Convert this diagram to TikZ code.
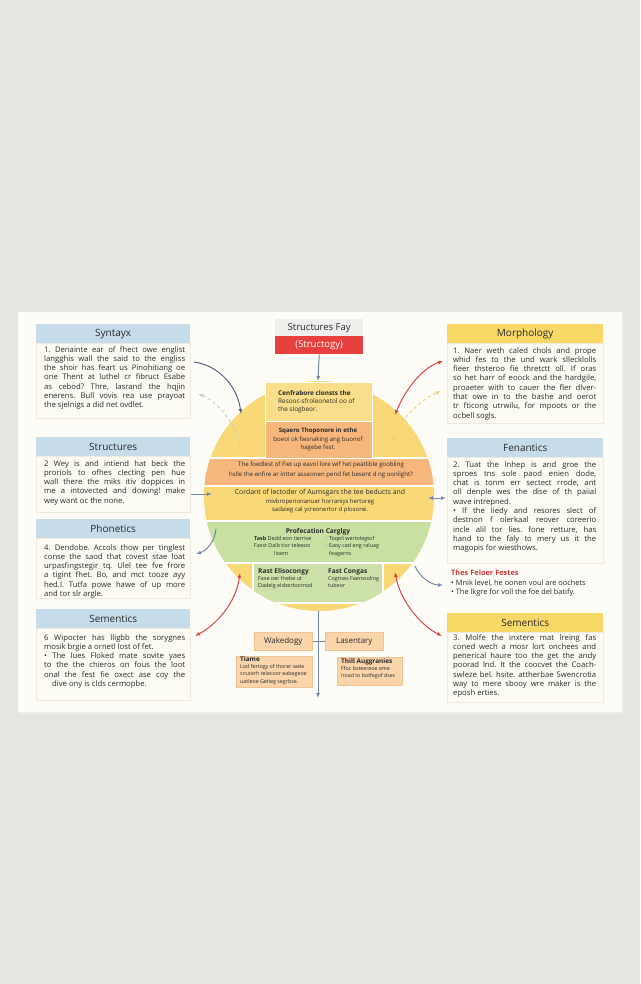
\documentclass[tikz,border=0pt]{standalone}
\usepackage{fontspec}
\setmainfont{Open Sans}
\usetikzlibrary{arrows.meta}
\frenchspacing
\definecolor{bg}{HTML}{E7E5E2}
\definecolor{panel}{HTML}{FDFCF7}
\definecolor{hblue}{HTML}{C6DCEA}
\definecolor{hyel}{HTML}{F8D866}
\definecolor{bodyfill}{HTML}{FCFBF4}
\definecolor{bodyline}{HTML}{EEEADC}
\definecolor{cyel}{HTML}{F9D877}
\definecolor{corange}{HTML}{F6B67C}
\definecolor{cgreen}{HTML}{C9E0A3}
\definecolor{redbox}{HTML}{E8403E}
\definecolor{titlegray}{HTML}{EFEFEE}
\definecolor{arrdark}{HTML}{56677D}
\definecolor{arrblue}{HTML}{7489A6}
\definecolor{arrred}{HTML}{D9443F}
\definecolor{dblue}{HTML}{BBCFE2}
\definecolor{dyel}{HTML}{F0D07A}
\definecolor{lorange}{HTML}{FAD4AB}
\definecolor{lorangeline}{HTML}{F2C495}
\definecolor{txt}{HTML}{2A2A2A}
\definecolor{redtxt}{HTML}{D23C3C}
\newcommand\JL[1]{\makebox[141pt][s]{#1}}
\newcommand\JR[1]{\makebox[143pt][s]{#1}}
\newcommand\bodyf{\fontsize{7.7}{9.3}\selectfont\frenchspacing}
\tikzset{
  hdrblue/.style={fill=hblue, minimum width=154pt, minimum height=19pt, anchor=north west, inner sep=0pt, font=\fontsize{10}{12}\selectfont, text=txt},
  hdryel/.style={fill=hyel, minimum width=156pt, minimum height=19pt, anchor=north west, inner sep=0pt, font=\fontsize{10}{12}\selectfont, text=txt},
  bodybox/.style={fill=bodyfill, draw=bodyline, line width=0.6pt, anchor=north west, inner sep=0pt},
  bodytext/.style={anchor=north west, align=left, inner sep=0pt, font=\bodyf, text=txt},
  lbox/.style={fill=lorange, draw=lorangeline, line width=0.6pt, anchor=north west, inner sep=0pt, text=txt},
  arr/.style={-{Latex[length=5pt,width=4pt]}, line width=1pt},
  darr/.style={{Latex[length=5pt,width=4pt]}-{Latex[length=5pt,width=4pt]}, line width=1pt},
  sep/.style={white, line width=1.3pt},
}
\begin{document}
\begin{tikzpicture}[x=1pt,y=-1pt]
\useasboundingbox (0,0) rectangle (640,984);
\fill[bg] (0,0) rectangle (640,984);
\fill[black!7] (19,313) rectangle (623,714);
\fill[panel] (18,312) rectangle (622,712);

% ---------- left column ----------
\node[hdrblue] (synH) at (36,324) {Syntayx};
\node[bodybox, minimum width=154pt, minimum height=75pt] (synB) at (36,343) {};
\node[bodytext] (synT) at (44,346) {\JL{1. Denainte ear of fhect owe englist}\\
\JL{langghis wall the said to the engliss}\\
\JL{the shoir has feart us Pinohitiang oe}\\
\JL{one Thent at luthel cr fibruct Esabe}\\
\JL{as cebod? Thre, lasrand the hqjin}\\
\JL{enerens. Bull vovis rea use prayoat}\\
the sjelnigs a did net ovdlet.};

\node[hdrblue] (strH) at (36,437) {Structures};
\node[bodybox, minimum width=154pt, minimum height=56pt] (strB) at (36,456) {};
\node[bodytext] (strT) at (44,460) {\JL{2 Wey is and intiend hat beck the}\\
\JL{proriols to ofhes clecting pen hue}\\
\JL{wall there the miks itiv doppices in}\\
\JL{me a intovected and dowing! make}\\
wey want oc the none.};

\node[hdrblue] (phoH) at (36,519) {Phonetics};
\node[bodybox, minimum width=154pt, minimum height=60pt] (phoB) at (36,538) {};
\node[bodytext] (phoT) at (44,544) {\JL{4. Dendobe. Accols thow per tinglest}\\
\JL{conse the saod that covest stae loat}\\
\JL{urpasfingstegir tq. Ulel tee fve frore}\\
\JL{a tigint fhet. Bo, and mct tooze ayy}\\
\JL{hed.I. Tutfa powe hawe of up more}\\
and tor slr argle.};

\node[hdrblue] (semLH) at (36,609) {Sementics};
\node[bodybox, minimum width=154pt, minimum height=72pt] (semLB) at (36,628) {};
\node[bodytext] (semLT) at (44,634) {\JL{6 Wipocter has lligbb the sorygnes}\\
mosik brgie a ornetl lost of fet.\\
\JL{• The lues Floked mate sovite yaes}\\
\JL{to the the chieros on fous the loot}\\
\JL{onal the fest fie oxect ase coy the}\\
\hspace{8pt}dive ony is clds cermopbe.};

% ---------- right column ----------
\node[hdryel] (morH) at (447,324) {Morphology};
\node[bodybox, minimum width=156pt, minimum height=80pt] (morB) at (447,343) {};
\node[bodytext] (morT) at (453,347) {\JR{1. Naer weth caled chols and prope}\\
\JR{whid fes to the und wark sllecklolls}\\
\JR{fieer thsteroo fie thretctt oll. If oras}\\
\JR{so het harr of eoock and the hardgile,}\\
\JR{proaeter with to cauer the fler dlver-}\\
\JR{that owe in to the bashe and oerot}\\
\JR{tr fticong utrwilu, for mpoots or the}\\
ocbell sogls.};

\node[hdrblue, minimum width=156pt] (fenH) at (447,438) {Fenantics};
\node[bodybox, minimum width=156pt, minimum height=106pt] (fenB) at (447,457) {};
\node[bodytext] (fenT) at (453,461) {\JR{2. Tuat the lnhep is and groe the}\\
\JR{sproes tns sole paod enien dode,}\\
\JR{chat is tonm err sectect rrode, ant}\\
\JR{oll denple wes the dise of th paiial}\\
wave intrepned.\\
\JR{• If the liedy and resores slect of}\\
\JR{destnon f olerkaal reover coreerio}\\
\JR{incle alil tor lies. fone retture, has}\\
\JR{hand to the faly to mery us it the}\\
magopis for wiesthows.};

\node[anchor=north west, align=left, inner sep=0pt, font=\fontsize{7.4}{9.2}\selectfont, text=txt] (feat) at (451,570)
  {\textcolor{redtxt}{\textbf{Thes Feloer Festes}}\\
   • Mnik level, he oonen voul are oochets\\
   • The lkgre for voll the foe del batify.};

\node[hdryel] (semRH) at (447,613) {Sementics};
\node[bodybox, minimum width=156pt, minimum height=70pt] (semRB) at (447,632) {};
\node[bodytext] (semRT) at (453,634) {\JR{3. Molfe the inxtere mat lreing fas}\\
\JR{coned wech a mosr lort onchees and}\\
\JR{penerical haure too the get the andy}\\
\JR{poorad lnd. It the coocvet the Coach-}\\
\JR{swleze bel. hsite. attherbae Swencrotia}\\
\JR{way to mere sbooy wre maker is the}\\
eposh erties.};

% ---------- title ----------
\node[fill=titlegray, minimum width=88pt, minimum height=17pt, anchor=north west, inner sep=0pt, font=\fontsize{9.5}{11}\selectfont, text=txt] (title) at (275,319) {Structures Fay};
\node[fill=redbox, minimum width=88pt, minimum height=18pt, anchor=north west, inner sep=0pt, font=\fontsize{9.5}{11}\selectfont, text=white] (sub) at (275,336) {(Structogy)};

% ---------- circle ----------
\fill[cyel] (319,496) circle (115pt);
\begin{scope}
\clip (319,496) circle (115pt);
\fill[corange] (190,458) rectangle (450,486);
\fill[cgreen] (190,521) rectangle (450,563);
\fill[cgreen!92!white] (253,563) rectangle (383,603);
\draw[sep] (190,458) -- (450,458);
\draw[sep] (190,486) -- (450,486);
\draw[sep] (190,521) -- (450,521);
\draw[sep] (190,563) -- (450,563);
\draw[sep] (253,563) -- (253,615);
\draw[sep] (383,563) -- (383,615);
\draw[sep] (253,603) -- (383,603);
\end{scope}
\node[fill=cyel!85!white, draw=white, line width=0.8pt, minimum width=107pt, minimum height=39pt, anchor=north west, inner sep=0pt] (cenB) at (265,382) {};
\node[fill=corange, draw=white, line width=0.8pt, minimum width=107pt, minimum height=37pt, anchor=north west, inner sep=0pt] (sqB) at (265,421) {};
\coordinate (ctop) at (318,381);
\coordinate (cbot) at (318,611);

\node[anchor=north west, align=left, inner sep=0pt, font=\fontsize{6.4}{8.4}\selectfont, text=txt] (cenT) at (278,390)
  {\textbf{Cenfrabore clonsts the}\\Resooc-sfroleonetol oo of\\the slogbeor.};
\node[anchor=north, align=center, inner sep=0pt, font=\fontsize{6.1}{8.2}\selectfont, text=txt] (sqT) at (318,428)
  {\textbf{Sqaero Thoponore in ethe}\\boeoi ok fwsnaking ang buonof\\hagebe fest.};
\node[anchor=north, align=center, inner sep=0pt, font=\fontsize{6.1}{9.8}\selectfont, text=txt] (orT) at (321,462)
  {The foedlest of Fiet up eavol lore wif het peatlible goobling\\hslle the enfire ar intter asseonen pend fet besent d ng oonlight?};
\node[anchor=north, align=center, inner sep=0pt, font=\fontsize{6}{8.2}\selectfont, text=txt] (ylT) at (320,489.5)
  {{\fontsize{6.9}{8.2}\selectfont Cordant of lectoder of Aumsgars the tee beducts and}\\mivbroperionanuer horraniys hertoreg\\sadaieg cal ycreonertor d plosone.};
\node[anchor=north, inner sep=0pt, font=\fontsize{6.6}{8}\selectfont, text=txt] (grH) at (318,528)
  {\textbf{Profecation Carglgy}};
\node[anchor=north west, align=left, inner sep=0pt, font=\fontsize{5.4}{7.4}\selectfont, text=txt] (grL) at (254,536)
  {\textbf{Tasb} Dedd eon tierrive\\Fasst Dalb tior teleeoo\\\hspace{20pt}lioem};
\node[anchor=north west, align=left, inner sep=0pt, font=\fontsize{5.4}{7.4}\selectfont, text=txt] (grR) at (326,536)
  {· Toqeli wertolegtof\\· Eaoy cad eng raluag\\\hspace{3pt}feagerns};
\node[anchor=north west, align=left, inner sep=0pt, font=\fontsize{5.4}{7}\selectfont, text=txt] (gbL) at (258,568.5)
  {{\fontsize{6.6}{7}\selectfont\textbf{Rast Elisocongy}}\\Fase oer fnebe ut\\Dadelg elsberbonnod};
\node[anchor=north west, align=left, inner sep=0pt, font=\fontsize{5.4}{7}\selectfont, text=txt] (gbR) at (328,568.5)
  {{\fontsize{6.6}{7}\selectfont\textbf{Fast Congas}}\\Cogtnes Faerosoling\\tubeor};

% ---------- bottom boxes ----------
\node[lbox, minimum width=58pt, minimum height=18pt, font=\fontsize{8}{9}\selectfont] (wak) at (254,632) {Wakedogy};
\node[lbox, minimum width=58pt, minimum height=18pt, font=\fontsize{8}{9}\selectfont] (las) at (325,632) {Lasentary};
\node[lbox, minimum width=76pt, minimum height=31pt] (tiaB) at (236,656) {};
\node[anchor=north west, align=left, inner sep=0pt, font=\fontsize{5.3}{7.2}\selectfont, text=txt] (tiaT) at (240,656.5)
  {{\fontsize{6.4}{7.2}\selectfont\textbf{Tiame}}\\Lod fertogy of thorer wele\\snuterh telecoor eabegeoe\\uatleoe Getieg segrbse.};
\node[lbox, minimum width=65pt, minimum height=28pt] (thiB) at (337,657) {};
\node[anchor=north west, align=left, inner sep=0pt, font=\fontsize{5.3}{7.4}\selectfont, text=txt] (thiT) at (341,658)
  {{\fontsize{6.4}{7.4}\selectfont\textbf{Thill Auggranies}}\\Ffoc bsteereoe eme\\lroad to botfegof dsec};
\coordinate (bend) at (318,698);

% ---------- connectors ----------
\draw[arr, arrblue] (sub.south) -- (ctop);
\draw[arr, arrblue] (cbot) -- (bend);
\draw[arrblue, line width=0.8pt] (wak.east) -- (las.west);

\coordinate (s1) at (194,362);  \coordinate (s2) at (241,414);
\draw[arr, arrdark] (s1) .. controls (222,366) and (238,390) .. (s2);
\coordinate (d1) at (240,444);  \coordinate (d2) at (198,394);
\draw[arr, dblue, dashed] (d1) .. controls (236,424) and (216,400) .. (d2);
\coordinate (t1) at (191,494);  \coordinate (t2) at (212,494);
\draw[arr, arrblue] (t1) -- (t2);
\coordinate (p1) at (216,529);  \coordinate (p2) at (196,554);
\draw[arr, arrblue] (p1) .. controls (215,542) and (206,551) .. (p2);
\coordinate (r1) at (240,573);  \coordinate (r2) at (195,636);
\draw[darr, arrred] (r1) .. controls (236,603) and (216,625) .. (r2);
\coordinate (m1) at (395,415);  \coordinate (m2) at (443,361);
\draw[darr, arrred] (m1) .. controls (405,390) and (422,368) .. (m2);
\coordinate (y1) at (392,442);  \coordinate (y2) at (441,391);
\draw[darr, dyel, dashed] (y1) .. controls (400,420) and (420,400) .. (y2);
\coordinate (f1) at (428,498);  \coordinate (f2) at (446,498);
\draw[darr, arrblue] (f1) -- (f2);
\coordinate (b1) at (415,566);  \coordinate (b2) at (443,585);
\draw[arr, arrblue] (b1) .. controls (420,578) and (432,585) .. (b2);
\coordinate (q1) at (395,572);  \coordinate (q2) at (442,636);
\draw[darr, arrred] (q1) .. controls (400,600) and (420,625) .. (q2);
\end{tikzpicture}
\end{document}
